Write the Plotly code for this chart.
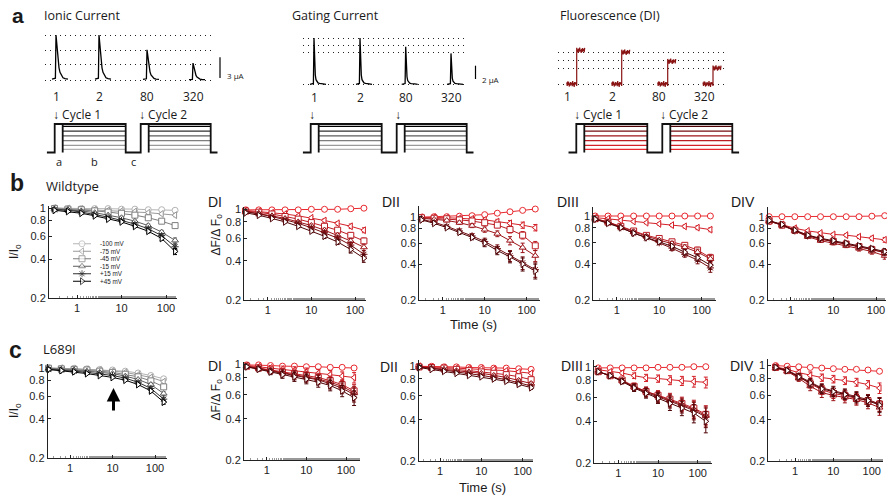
import math
import plotly.graph_objects as go

W, H = 887, 496

# ======================= DATA =======================
time_s = [0.3125, 0.625, 1.25, 2.5, 5, 10, 20, 40, 80, 160]
volt_labels = ["-100 mV", "-75 mV", "-45 mV", "-15 mV", "+15 mV", "+45 mV"]
test_mv = [-100, -75, -45, -15, 15, 45]
cycle_labels = ["1", "2", "80", "320"]

# ---- Wildtype ----
wt_ionic = [
    [1.00, 0.99, 0.99, 0.99, 0.99, 0.98, 0.98, 0.97, 0.97, 0.96],
    [1.00, 0.99, 0.98, 0.97, 0.96, 0.95, 0.94, 0.92, 0.90, 0.88],
    [0.99, 0.98, 0.97, 0.95, 0.93, 0.91, 0.88, 0.84, 0.79, 0.73],
    [0.98, 0.97, 0.95, 0.92, 0.88, 0.84, 0.79, 0.73, 0.65, 0.56],
    [0.97, 0.96, 0.93, 0.89, 0.85, 0.80, 0.75, 0.69, 0.61, 0.50],
    [0.96, 0.94, 0.91, 0.87, 0.82, 0.78, 0.72, 0.66, 0.58, 0.46],
]
wt_DI = [
    [0.99, 0.99, 0.99, 0.99, 0.99, 1.00, 1.00, 1.00, 1.01, 1.02],
    [0.98, 0.96, 0.94, 0.92, 0.89, 0.86, 0.82, 0.78, 0.74, 0.69],
    [0.97, 0.95, 0.92, 0.88, 0.84, 0.79, 0.74, 0.69, 0.63, 0.57],
    [0.96, 0.93, 0.89, 0.85, 0.80, 0.75, 0.69, 0.63, 0.57, 0.51],
    [0.96, 0.92, 0.88, 0.83, 0.78, 0.72, 0.66, 0.60, 0.53, 0.45],
    [0.94, 0.90, 0.85, 0.80, 0.74, 0.68, 0.62, 0.56, 0.49, 0.42],
]
wt_DII = [
    [0.99, 1.00, 1.00, 1.01, 1.02, 1.04, 1.07, 1.10, 1.13, 1.16],
    [0.99, 0.99, 0.98, 0.97, 0.96, 0.94, 0.91, 0.88, 0.85, 0.81],
    [0.98, 0.97, 0.96, 0.94, 0.92, 0.89, 0.85, 0.78, 0.70, 0.57],
    [0.97, 0.95, 0.93, 0.89, 0.84, 0.78, 0.72, 0.63, 0.55, 0.47],
    [0.95, 0.90, 0.83, 0.76, 0.69, 0.62, 0.54, 0.47, 0.41, 0.36],
    [0.94, 0.88, 0.81, 0.74, 0.67, 0.60, 0.52, 0.46, 0.40, 0.35],
]
wt_DIII = [
    [1.00, 1.00, 1.00, 1.00, 1.00, 1.00, 1.00, 1.00, 1.00, 1.00],
    [0.97, 0.95, 0.92, 0.90, 0.88, 0.86, 0.84, 0.82, 0.80, 0.77],
    [0.95, 0.89, 0.82, 0.75, 0.69, 0.65, 0.61, 0.57, 0.52, 0.45],
    [0.95, 0.89, 0.81, 0.74, 0.68, 0.63, 0.59, 0.55, 0.50, 0.44],
    [0.94, 0.88, 0.80, 0.72, 0.66, 0.60, 0.54, 0.48, 0.43, 0.37],
    [0.94, 0.87, 0.80, 0.72, 0.66, 0.61, 0.56, 0.50, 0.45, 0.39],
]
wt_DIV = [
    [1.00, 1.00, 1.00, 1.00, 1.00, 1.00, 1.00, 1.00, 1.01, 1.02],
    [0.92, 0.86, 0.80, 0.76, 0.73, 0.71, 0.70, 0.68, 0.66, 0.64],
    [0.92, 0.85, 0.77, 0.70, 0.65, 0.62, 0.59, 0.56, 0.53, 0.50],
    [0.92, 0.85, 0.76, 0.68, 0.63, 0.60, 0.57, 0.54, 0.51, 0.47],
    [0.92, 0.85, 0.76, 0.69, 0.65, 0.62, 0.59, 0.56, 0.53, 0.50],
    [0.93, 0.86, 0.77, 0.70, 0.66, 0.63, 0.60, 0.57, 0.54, 0.51],
]
# ---- L689I ----
mut_ionic = [
    [1.00, 0.99, 0.99, 0.98, 0.97, 0.96, 0.94, 0.91, 0.87, 0.82],
    [0.99, 0.99, 0.98, 0.97, 0.96, 0.94, 0.92, 0.88, 0.84, 0.78],
    [0.99, 0.98, 0.97, 0.96, 0.94, 0.92, 0.89, 0.85, 0.79, 0.71],
    [0.98, 0.97, 0.96, 0.94, 0.92, 0.90, 0.86, 0.81, 0.74, 0.63],
    [0.97, 0.96, 0.94, 0.92, 0.90, 0.87, 0.83, 0.77, 0.69, 0.57],
    [0.97, 0.95, 0.93, 0.90, 0.87, 0.84, 0.80, 0.74, 0.66, 0.54],
]
mut_DI = [
    [0.99, 0.99, 0.98, 0.97, 0.97, 0.96, 0.96, 0.95, 0.95, 0.94],
    [0.98, 0.96, 0.94, 0.92, 0.90, 0.88, 0.86, 0.84, 0.82, 0.80],
    [0.97, 0.94, 0.91, 0.88, 0.85, 0.83, 0.80, 0.76, 0.71, 0.64],
    [0.97, 0.94, 0.90, 0.87, 0.84, 0.81, 0.78, 0.74, 0.69, 0.62],
    [0.96, 0.93, 0.89, 0.86, 0.83, 0.80, 0.77, 0.72, 0.67, 0.60],
    [0.96, 0.92, 0.88, 0.84, 0.81, 0.78, 0.74, 0.70, 0.64, 0.57],
]
mut_DII = [
    [0.99, 0.99, 0.98, 0.98, 0.97, 0.97, 0.96, 0.96, 0.95, 0.94],
    [0.99, 0.98, 0.97, 0.96, 0.95, 0.95, 0.94, 0.92, 0.90, 0.88],
    [0.98, 0.97, 0.96, 0.94, 0.92, 0.90, 0.88, 0.86, 0.83, 0.79],
    [0.98, 0.96, 0.94, 0.92, 0.90, 0.88, 0.85, 0.82, 0.78, 0.74],
    [0.98, 0.96, 0.93, 0.90, 0.88, 0.85, 0.82, 0.79, 0.75, 0.71],
    [0.97, 0.94, 0.91, 0.88, 0.85, 0.83, 0.80, 0.77, 0.73, 0.69],
]
mut_DIII = [
    [0.98, 0.98, 0.98, 0.98, 0.98, 0.99, 0.99, 0.99, 1.00, 1.00],
    [0.95, 0.92, 0.90, 0.86, 0.83, 0.82, 0.80, 0.79, 0.78, 0.77],
    [0.92, 0.86, 0.80, 0.72, 0.66, 0.62, 0.58, 0.54, 0.50, 0.45],
    [0.92, 0.86, 0.79, 0.71, 0.66, 0.61, 0.57, 0.53, 0.49, 0.44],
    [0.92, 0.86, 0.79, 0.71, 0.65, 0.60, 0.56, 0.52, 0.48, 0.43],
    [0.92, 0.86, 0.78, 0.70, 0.64, 0.59, 0.54, 0.50, 0.46, 0.40],
]
mut_DIV = [
    [0.99, 0.98, 0.97, 0.96, 0.95, 0.94, 0.93, 0.93, 0.92, 0.90],
    [0.97, 0.93, 0.88, 0.84, 0.81, 0.79, 0.77, 0.75, 0.72, 0.68],
    [0.96, 0.91, 0.82, 0.73, 0.66, 0.62, 0.60, 0.57, 0.55, 0.52],
    [0.95, 0.90, 0.80, 0.70, 0.63, 0.60, 0.58, 0.56, 0.53, 0.49],
    [0.96, 0.92, 0.83, 0.75, 0.68, 0.65, 0.62, 0.59, 0.56, 0.52],
    [0.96, 0.91, 0.82, 0.74, 0.67, 0.64, 0.61, 0.58, 0.55, 0.51],
]
# error bar half-widths (shared by the non -100 mV series of a panel)
err_wt_ionic = [0.005, 0.005, 0.01, 0.01, 0.01, 0.015, 0.015, 0.02, 0.02, 0.025]
err_wt_DI = [0.01, 0.01, 0.015, 0.015, 0.02, 0.02, 0.025, 0.025, 0.03, 0.03]
err_wt_DII = [0.01, 0.015, 0.02, 0.03, 0.03, 0.04, 0.04, 0.05, 0.05, 0.05]
err_wt_DIII = [0.01, 0.01, 0.015, 0.02, 0.02, 0.02, 0.025, 0.025, 0.03, 0.03]
err_wt_DIV = [0.01, 0.01, 0.015, 0.02, 0.02, 0.02, 0.02, 0.025, 0.025, 0.03]
err_mut_ionic = [0.005, 0.005, 0.01, 0.01, 0.01, 0.01, 0.015, 0.015, 0.02, 0.02]
err_mut_DI = [0.02, 0.03, 0.04, 0.05, 0.06, 0.06, 0.06, 0.06, 0.06, 0.07]
err_mut_DII = [0.01, 0.01, 0.01, 0.015, 0.015, 0.015, 0.02, 0.02, 0.02, 0.02]
err_mut_DIII = [0.02, 0.02, 0.03, 0.04, 0.05, 0.05, 0.06, 0.06, 0.07, 0.07]
err_mut_DIV = [0.02, 0.02, 0.04, 0.05, 0.05, 0.05, 0.05, 0.05, 0.05, 0.06]

# ---- panel a example recordings ----
ionic_peaks_uA = [6.5, 6.5, 4.35, 2.45]
ionic_grid_uA = [0, 2.28, 4.25, 6.5]
ionic_scale_uA = 3
gating_peaks_uA = [6.95, 6.95, 5.65, 4.65]
gating_grid_uA = [0, 4.8, 5.9, 6.92]
gating_scale_uA = 2
fluor_steps = [1.06, 1.0, 0.71, 0.5]
fluor_grid = [0, 0.495, 0.757, 1.0]
ionic_shape = [0.02, 0.04, 1.0, 0.85, 0.6, 0.42, 0.27, 0.17, 0.09, 0.05, 0.03, 0.02]
gating_shape = [0.0, 0.02, 1.0, 0.45, 0.2, 0.1, 0.05, 0.03, 0.02, 0.01, 0.01, 0.0]
fluor_noise = [0.5, -0.6, 0.8, -0.3, 0.7, -0.8, 0.2, -0.5, 0.6, -0.2,
               0.4, -0.7, 0.9, -0.4, 0.3, -0.9, 0.6, -0.1, 0.5, -0.6,
               0.8, -0.2, 0.3, -0.7, 0.6, -0.4, 0.9, -0.3, 0.2, -0.8,
               0.5, -0.5, 0.7, -0.1, 0.4, -0.6, 0.8]
# protocol: hold, a, b, c, a, b, hold (ms, schematic) and voltages (mV)
prot_dur = [8, 8, 63, 15, 8, 62, 7]
hold_mv, pulse_mv = -120, 60

# ======================= STYLE =======================
grays = ["#b4b4b4", "#9a9a9a", "#7e7e7e", "#5c5c5c", "#303030", "#000000"]
reds = ["#e8282e", "#d42028", "#bb1d24", "#9c1419", "#750c10", "#4e0407"]
symbols = ["circle", "triangle-left", "square", "triangle-up", "asterisk-open", "triangle-right"]
FONT = "Liberation Sans, Arial, sans-serif"
SANS = "Open Sans, Noto Sans, sans-serif"

fig = go.Figure()
layout = {}
annotations = []
shapes = []
axis_n = [0]


def px_x(p):
    return p / W


def px_y(p):
    return 1 - p / H


def new_axes(xd, yd, xax, yax):
    axis_n[0] += 1
    n = axis_n[0]
    sx = "" if n == 1 else str(n)
    xax = dict(xax, domain=[px_x(xd[0]), px_x(xd[1])], anchor="y" + sx, automargin=False)
    yax = dict(yax, domain=[px_y(yd[1]), px_y(yd[0])], anchor="x" + sx, automargin=False)
    layout["xaxis" + sx] = xax
    layout["yaxis" + sx] = yax
    return "x" + sx, "y" + sx


def lin_range(d0, d1, pa, va, pb, vb):
    s = (vb - va) / (pb - pa)
    return [va + (d0 - pa) * s, va + (d1 - pa) * s]


def ann(x, y, text, size=12, family=FONT, xanchor="center", yanchor="middle",
        xref="paper", yref="paper", angle=0, color="#1a1a1a"):
    annotations.append(dict(
        x=x, y=y, xref=xref, yref=yref, text=text, showarrow=False,
        xanchor=xanchor, yanchor=yanchor, textangle=angle, borderpad=0,
        font=dict(family=family, size=size, color=color)))


HIDE = dict(visible=False, showgrid=False, zeroline=False, fixedrange=True)

# ---------------- panel a : recordings ----------------
def recording_axes(xd, ytop, ybot, p0, v0, p1, v1, grid, xspan):
    xa = dict(HIDE, range=[0, xspan])
    ya = dict(visible=True, showline=False, zeroline=False, showticklabels=False,
              ticks="", range=lin_range(ybot, ytop, p0, v0, p1, v1),
              tickvals=grid, showgrid=True, gridcolor="#222", gridwidth=1,
              griddash="1px,4px")
    return new_axes(xd, (ytop, ybot), xa, ya)

# Ionic
ix, iy = recording_axes((45, 213), 28, 88, 80, 0, 35, 6.5, ionic_grid_uA, 168)
ionic_pos = [11, 54, 102, 148]
ionic_off = [-4, -0.6, 0, 0.6, 1.3, 2, 3, 4, 5.5, 7, 9, 12]
for p, A in zip(ionic_pos, ionic_peaks_uA):
    fig.add_trace(go.Scatter(x=[p + o for o in ionic_off], y=[A * s for s in ionic_shape],
                             xaxis=ix, yaxis=iy, mode="lines",
                             line=dict(color="black", width=1.3), hoverinfo="skip"))
for p, lab in zip(ionic_pos, cycle_labels):
    ann(p, px_y(96), lab, size=12, family=SANS, xref=ix)
shapes.append(dict(type="line", xref="paper", yref=iy, x0=px_x(220), x1=px_x(220),
                   y0=0.3, y1=0.3 + ionic_scale_uA, line=dict(color="black", width=1.2)))
ann(px_x(226), px_y(75), "%d µA" % ionic_scale_uA, size=8, family=SANS, xanchor="left")

# Gating
gx, gy = recording_axes((303, 467), 32, 90, 84.3, 0, 38.3, 6.92, gating_grid_uA, 164)
gating_pos = [11, 57, 102.7, 148]
for p, A in zip(gating_pos, gating_peaks_uA):
    fig.add_trace(go.Scatter(x=[p + o for o in ionic_off], y=[A * s for s in gating_shape],
                             xaxis=gx, yaxis=gy, mode="lines",
                             line=dict(color="black", width=1.3), hoverinfo="skip"))
for p, lab in zip(gating_pos, cycle_labels):
    ann(p, px_y(97), lab, size=12, family=SANS, xref=gx)
shapes.append(dict(type="line", xref="paper", yref=gy, x0=px_x(475.5), x1=px_x(475.5),
                   y0=0.8, y1=0.8 + gating_scale_uA, line=dict(color="black", width=1.2)))
ann(px_x(481), px_y(79), "%d µA" % gating_scale_uA, size=8, family=SANS, xanchor="left")

# Fluorescence
fx, fy = recording_axes((558, 725), 45, 90, 84, 0, 52.3, 1.0, fluor_grid, 167)
fluor_pos = [18.7, 63.7, 109.7, 155]
for p, A in zip(fluor_pos, fluor_steps):
    xs, ys = [], []
    for k, nz in enumerate(fluor_noise):
        o = -10 + k * 0.5
        if o == 0:
            xs.append(p)
            ys.append(fluor_noise[k - 1] * 0.1)
        xs.append(p + o)
        ys.append((A if o >= 0 else 0.0) + nz * 0.1)
    fig.add_trace(go.Scatter(x=xs, y=ys, xaxis=fx, yaxis=fy, mode="lines",
                             line=dict(color="#8a1414", width=1.2), hoverinfo="skip"))
for p, lab in zip(fluor_pos, cycle_labels):
    ann(p - 9, px_y(96), lab, size=12, family=SANS, xref=fx)

# ---------------- panel a : protocols ----------------
def protocol(x0px, palette, cycle_text):
    tb = [0]
    for d in prot_dur:
        tb.append(tb[-1] + d)
    span = tb[-1]
    yr = lin_range(155.5, 121, 152.5, hold_mv, 124, pulse_mv)
    px_, py_ = new_axes((x0px, x0px + span), (121, 155.5),
                        dict(HIDE, range=[0, span]), dict(HIDE, range=yr))
    for v, c in zip(test_mv, palette):
        for a_, b_ in ((tb[2], tb[3]), (tb[5], tb[6])):
            fig.add_trace(go.Scatter(x=[a_, b_], y=[v, v], xaxis=px_, yaxis=py_, mode="lines",
                                     line=dict(color=c, width=1.2), hoverinfo="skip"))
    ox = [tb[0], tb[1], tb[1], tb[3], tb[3], tb[4], tb[4], tb[6], tb[6], tb[7]]
    oy = [hold_mv, hold_mv, pulse_mv, pulse_mv, hold_mv, hold_mv, pulse_mv, pulse_mv, hold_mv, hold_mv]
    fig.add_trace(go.Scatter(x=ox, y=oy, xaxis=px_, yaxis=py_, mode="lines",
                             line=dict(color="#111", width=1.8), hoverinfo="skip"))
    for t in (tb[2], tb[5]):
        fig.add_trace(go.Scatter(x=[t, t], y=[hold_mv, pulse_mv], xaxis=px_, yaxis=py_, mode="lines",
                                 line=dict(color="#111", width=1.8), hoverinfo="skip"))
    for i, t in enumerate((tb[1], tb[4])):
        txt = "↓" if cycle_text is None else "↓ Cycle %d" % (i + 1)
        ann(t - 3, px_y(115), txt, size=12, family=SANS, xanchor="left", xref=px_)
    ann(tb[7] + 4, px_y(149), "...", size=11, family=SANS, xanchor="left", xref=px_)
    return px_, tb

ipx, itb = protocol(46.7, grays, True)
for lab, a_, b_ in (("a", itb[1], itb[2]), ("b", itb[2], itb[3]), ("c", itb[3], itb[4])):
    ann((a_ + b_) / 2, px_y(161), lab, size=11, family=SANS, xref=ipx)
protocol(302.7, grays, None)
protocol(568.3, reds, True)

# ---------------- panels b & c ----------------
panels = [
    # data, err, palette, (x0,x1,ytop,ybot), (px1, px100, py1, py02)
    (wt_ionic, err_wt_ionic, grays, (49, 177, 206, 298), (77, 166, 208, 298)),
    (wt_DI, err_wt_DI, reds, (244.3, 365.7, 207, 300), (267.7, 355, 209.3, 300)),
    (wt_DII, err_wt_DII, reds, (419.3, 540, 206, 300), (442.7, 526.7, 216.7, 300)),
    (wt_DIII, err_wt_DIII, reds, (593.3, 715.7, 206.7, 300), (616.7, 701.7, 216, 300)),
    (wt_DIV, err_wt_DIV, reds, (767.7, 886, 206.7, 300), (790.7, 876, 216.7, 300)),
    (mut_ionic, err_mut_ionic, grays, (47.7, 166.7, 364, 457.7), (70, 155, 367.7, 457.7)),
    (mut_DI, err_mut_DI, reds, (244, 360, 361.5, 460), (266.7, 346, 364.3, 460)),
    (mut_DII, err_mut_DII, reds, (418.7, 533.3, 360, 461), (440, 522.7, 365.7, 461)),
    (mut_DIII, err_mut_DIII, reds, (594.3, 711.7, 360, 462.7), (618.3, 697.7, 366.7, 462.7)),
    (mut_DIV, err_mut_DIV, reds, (768.3, 883.3, 359, 461), (795, 871.7, 365, 461)),
]

for data, err, pal, box, tk in panels:
    x0, x1, yt, yb = box
    p1, p100, q1, q02 = tk
    dec = (p100 - p1) / 2.0
    xr = [(x0 - p1) / dec, (x1 - p1) / dec]
    dy = (q02 - q1) / math.log10(5)
    yr = [math.log10(0.2) - (yb - q02) / dy, (q1 - yt) / dy]
    xa = dict(type="log", range=xr, showline=True, linecolor="#222", linewidth=1,
              showgrid=False, zeroline=False, ticks="inside", ticklen=3, tickcolor="#222",
              tickvals=[1, 10, 100], ticktext=["1", "10", "100"],
              tickfont=dict(family=FONT, size=11, color="#222"),
              minor=dict(ticks="inside", ticklen=2, tickcolor="#999", showgrid=False))
    ya = dict(type="log", range=yr, showline=True, linecolor="#222", linewidth=1,
              showgrid=False, zeroline=False, ticks="inside", ticklen=3, tickcolor="#222",
              tickvals=[0.2, 0.4, 0.6, 0.8, 1], ticktext=["0.2", "0.4", "0.6", "0.8", "1"],
              tickfont=dict(family=FONT, size=11, color="#222"))
    ax, ay = new_axes((x0, x1), (yt, yb), xa, ya)
    for i, (ser, c, sym) in enumerate(zip(data, pal, symbols)):
        eb = dict(type="data", array=err, color=c, thickness=1, width=2, visible=(i > 0))
        fig.add_trace(go.Scatter(
            x=time_s, y=ser, xaxis=ax, yaxis=ay, mode="lines+markers",
            line=dict(color=c, width=1),
            marker=dict(symbol=sym, size=6, color="white" if "open" not in sym else c,
                        line=dict(color=c, width=1)),
            error_y=eb, cliponaxis=False, hoverinfo="skip", name=volt_labels[i]))

# ---- legend of wildtype ionic panel ----
lx, ly = new_axes((73, 91), (240, 285), dict(HIDE, range=[0, 2]), dict(HIDE, range=[-0.5, 5.5]))
for i, (c, sym) in enumerate(zip(grays, symbols)):
    fig.add_trace(go.Scatter(x=[0, 1, 2], y=[5 - i] * 3, xaxis=lx, yaxis=ly,
                             mode="lines+markers", line=dict(color=c, width=1),
                             marker=dict(symbol=sym, size=[0, 6, 0],
                                         color="white" if "open" not in sym else c,
                                         line=dict(color=c, width=1)),
                             cliponaxis=False, hoverinfo="skip"))
    ann(px_x(99), 5 - i, volt_labels[i], size=6.3, xanchor="left", yref=ly)

# ---------------- text ----------------
ann(px_x(18), px_y(15), "<b>a</b>", size=21, family=FONT)
ann(px_x(43), px_y(16), "Ionic Current", size=12.5, family=SANS, xanchor="left")
ann(px_x(291), px_y(16), "Gating Current", size=12.5, family=SANS, xanchor="left")
ann(px_x(559), px_y(16), "Fluorescence (DI)", size=12.5, family=SANS, xanchor="left")

ann(px_x(17), px_y(183), "<b>b</b>", size=23, family=FONT)
ann(px_x(45), px_y(186), "Wildtype", size=13, family=SANS, xanchor="left")
ann(px_x(15), px_y(350), "<b>c</b>", size=23, family=FONT)
ann(px_x(42), px_y(349), "L689I", size=13, family=SANS, xanchor="left")

for x_, y_ in ((15, 252), (15, 411)):
    ann(px_x(x_), px_y(y_), "I/I<sub>o</sub>", size=12, angle=-90)
for x_, y_ in ((216.5, 235), (216.5, 400)):
    ann(px_x(x_), px_y(y_), "ΔF/Δ F<sub>o</sub>", size=12, angle=-90)

for x_, y_, t in ((215, 202, "DI"), (391, 202, "DII"), (568, 202, "DIII"), (743, 202, "DIV"),
                  (215, 366, "DI"), (389, 367, "DII"), (572, 366, "DIII"), (742, 366, "DIV")):
    ann(px_x(x_), px_y(y_), t, size=14)

ann(px_x(473), px_y(324), "Time (s)", size=13)
ann(px_x(482), px_y(487), "Time (s)", size=13)

# arrow in L689I panel
annotations.append(dict(x=px_x(113.5), y=px_y(388), xref="paper", yref="paper",
                        ax=0, ay=24, showarrow=True, arrowhead=2, arrowsize=0.9,
                        arrowwidth=3, arrowcolor="black", text=""))

layout.update(dict(width=W, height=H, margin=dict(l=0, r=0, t=0, b=0, autoexpand=False),
                   paper_bgcolor="white", plot_bgcolor="white", showlegend=False,
                   annotations=annotations, shapes=shapes))
fig.update_layout(**layout)
fig.write_html("out.html", config={"displayModeBar": False},
               post_script="document.body.style.margin='0';document.body.style.overflow='hidden';")
